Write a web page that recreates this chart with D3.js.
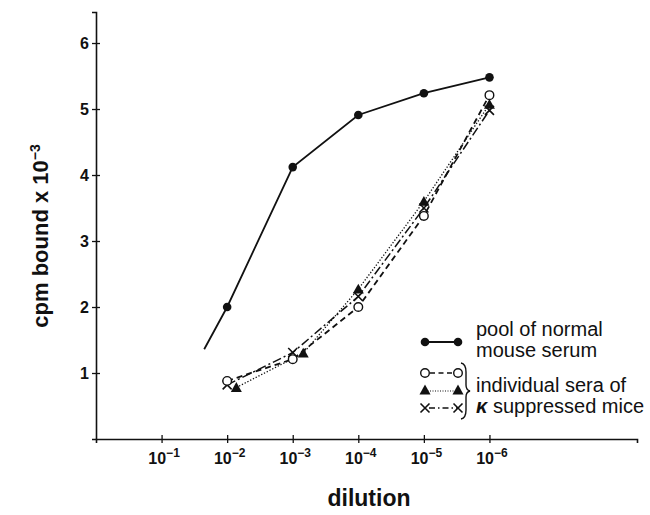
<!DOCTYPE html>
<html>
<head>
<meta charset="utf-8">
<script src="https://cdn.jsdelivr.net/npm/d3@7"></script>
<style>
  body { margin: 0; background: #fff; }
  text { font-family: "Liberation Sans", Arial, Helvetica, sans-serif; fill: #111; }
</style>
</head>
<body>
<svg id="chart" width="650" height="515"></svg>
<script>
// dilution exponents (10^-n)
const xTicks = [1, 2, 3, 4, 5, 6];
const yTicks = [1, 2, 3, 4, 5, 6];

// pool of normal mouse serum (first point is line start without marker)
const poolX = [1.65, 2, 3, 4, 5, 6];
const poolY = [1.36, 2.0, 4.12, 4.91, 5.24, 5.48];
const poolMarker = [false, true, true, true, true, true];

// individual sera of kappa suppressed mice
const circX = [2, 3, 4, 5, 6];
const circY = [0.88, 1.21, 2.0, 3.38, 5.21];
const triX = [2.14, 3.16, 4, 5, 6];
const triY = [0.78, 1.30, 2.27, 3.60, 5.07];
const crossX = [2, 3, 4, 5, 6];
const crossY = [0.82, 1.31, 2.16, 3.50, 4.98];

const svg = d3.select("#chart");
const x = d3.scaleLinear().domain([0, 8.25]).range([96, 637]);
const y = d3.scaleLinear().domain([0, 6.47]).range([439, 12]);

// axes
const xAxis = d3.axisBottom(x).tickValues(xTicks).tickSizeOuter(0).tickSize(4);
const yAxis = d3.axisLeft(y).tickValues(yTicks).tickSizeOuter(0).tickSize(4).tickFormat(d3.format("d"));

const gx = svg.append("g").attr("transform", "translate(0,439)").call(xAxis);
const gy = svg.append("g").attr("transform", "translate(96,0)").call(yAxis);

[gx, gy].forEach(g => {
  g.select(".domain").attr("stroke", "#111").attr("stroke-width", 1.6);
  g.selectAll(".tick line").attr("stroke", "#111").attr("stroke-width", 1.3);
});
gx.selectAll(".tick line").attr("y1", -4).attr("y2", 4);
gy.selectAll(".tick line").attr("x1", -4).attr("x2", 4);

gy.selectAll(".tick text")
  .attr("x", -7).attr("dy", "0.36em")
  .style("font-size", "16px").style("font-weight", "bold")
  .style("font-family", "'Liberation Sans', Arial, sans-serif").attr("fill", "#111");

gx.selectAll(".tick text").each(function(d) {
  const t = d3.select(this);
  t.text(null).attr("y", 25).attr("dy", null).attr("dx", 2)
    .style("font-size", "16px").style("font-weight", "bold")
    .style("font-family", "'Liberation Sans', Arial, sans-serif").attr("fill", "#111");
  t.append("tspan").text("10");
  t.append("tspan").attr("dy", -7).style("font-size", "12px").text("\u2212" + d);
});

// axis titles
svg.append("text").attr("x", 369).attr("y", 506).attr("text-anchor", "middle")
  .style("font-size", "23px").style("font-weight", "bold").text("dilution");

const ylab = svg.append("text").attr("transform", "translate(48,236) rotate(-90)")
  .attr("text-anchor", "middle").style("font-size", "22px").style("font-weight", "bold");
ylab.append("tspan").text("cpm bound x 10");
ylab.append("tspan").attr("dy", -8).style("font-size", "14px").text("\u22123");

// lines
const line = d3.line().x(d => x(d[0])).y(d => y(d[1]));
const zip = (a, b) => a.map((v, i) => [v, b[i]]);

const styles = {
  pool:  { dash: null, w: 1.8 },
  circ:  { dash: "6,4", w: 1.8 },
  tri:   { dash: "1.3,1.8", w: 1.3 },
  cross: { dash: "9,3,2,3", w: 1.5 }
};

svg.append("path").datum(zip(triX, triY)).attr("d", line).attr("fill", "none")
  .attr("stroke", "#111").attr("stroke-width", styles.tri.w).attr("stroke-dasharray", styles.tri.dash);
svg.append("path").datum(zip(crossX, crossY)).attr("d", line).attr("fill", "none")
  .attr("stroke", "#111").attr("stroke-width", styles.cross.w).attr("stroke-dasharray", styles.cross.dash);
svg.append("path").datum(zip(circX, circY)).attr("d", line).attr("fill", "none")
  .attr("stroke", "#111").attr("stroke-width", styles.circ.w).attr("stroke-dasharray", styles.circ.dash);
svg.append("path").datum(zip(poolX, poolY)).attr("d", line).attr("fill", "none")
  .attr("stroke", "#111").attr("stroke-width", styles.pool.w);

// markers
function filledCircle(g, cx, cy) {
  g.append("circle").attr("cx", cx).attr("cy", cy).attr("r", 4.3).attr("fill", "#111");
}
function openCircle(g, cx, cy) {
  g.append("circle").attr("cx", cx).attr("cy", cy).attr("r", 4.3).attr("fill", "#fff")
    .attr("stroke", "#111").attr("stroke-width", 1.4);
}
function triangle(g, cx, cy) {
  const s = 5.5;
  g.append("path").attr("d", `M${cx},${cy - s}L${cx + s},${cy + s * 0.8}L${cx - s},${cy + s * 0.8}Z`).attr("fill", "#111");
}
function cross(g, cx, cy) {
  const s = 4.5;
  g.append("path").attr("d", `M${cx - s},${cy - s}L${cx + s},${cy + s}M${cx + s},${cy - s}L${cx - s},${cy + s}`)
    .attr("stroke", "#111").attr("stroke-width", 1.6).attr("fill", "none");
}

const gm = svg.append("g");
crossX.forEach((v, i) => cross(gm, x(v), y(crossY[i])));
triX.forEach((v, i) => triangle(gm, x(v), y(triY[i])));
circX.forEach((v, i) => openCircle(gm, x(v), y(circY[i])));
poolX.forEach((v, i) => { if (poolMarker[i]) filledCircle(gm, x(v), y(poolY[i])); });

// legend
const lg = svg.append("g");
const lx1 = 425, lx2 = 458;
lg.append("line").attr("x1", lx1).attr("x2", lx2).attr("y1", 342).attr("y2", 342).attr("stroke", "#111").attr("stroke-width", 1.8);
filledCircle(lg, lx1, 342); filledCircle(lg, lx2, 342);

lg.append("line").attr("x1", lx1).attr("x2", lx2).attr("y1", 373).attr("y2", 373).attr("stroke", "#111")
  .attr("stroke-width", 1.5).attr("stroke-dasharray", "5,3.5").attr("stroke-dashoffset", -5);
openCircle(lg, lx1, 373); openCircle(lg, lx2, 373);

lg.append("line").attr("x1", lx1).attr("x2", lx2).attr("y1", 391).attr("y2", 391).attr("stroke", "#111")
  .attr("stroke-width", 1.1).attr("stroke-dasharray", "1,1.5");
triangle(lg, lx1, 390); triangle(lg, lx2, 390);

lg.append("line").attr("x1", lx1).attr("x2", lx2).attr("y1", 408).attr("y2", 408).attr("stroke", "#111")
  .attr("stroke-width", 1.3).attr("stroke-dasharray", "6,3,1.5,3").attr("stroke-dashoffset", -4);
cross(lg, lx1, 408); cross(lg, lx2, 408);

// brace
lg.append("path")
  .attr("d", "M461,363 Q466,364 466,372 L466,385 Q466,390 470,391 Q466,392 466,397 L466,410 Q466,418 461,419")
  .attr("fill", "none").attr("stroke", "#111").attr("stroke-width", 1.4);

const legText = [
  { t: "pool of normal", y: 336 },
  { t: "mouse serum", y: 357 },
  { t: "individual sera of", y: 392 }
];
legText.forEach(d => lg.append("text").attr("x", 476).attr("y", d.y).style("font-size", "20px").text(d.t));
const kt = lg.append("text").attr("x", 476).attr("y", 413).style("font-size", "20px");
kt.append("tspan").style("font-weight", "bold").style("font-style", "italic").text("\u03BA");
kt.append("tspan").text(" suppressed mice");
</script>
</body>
</html>
